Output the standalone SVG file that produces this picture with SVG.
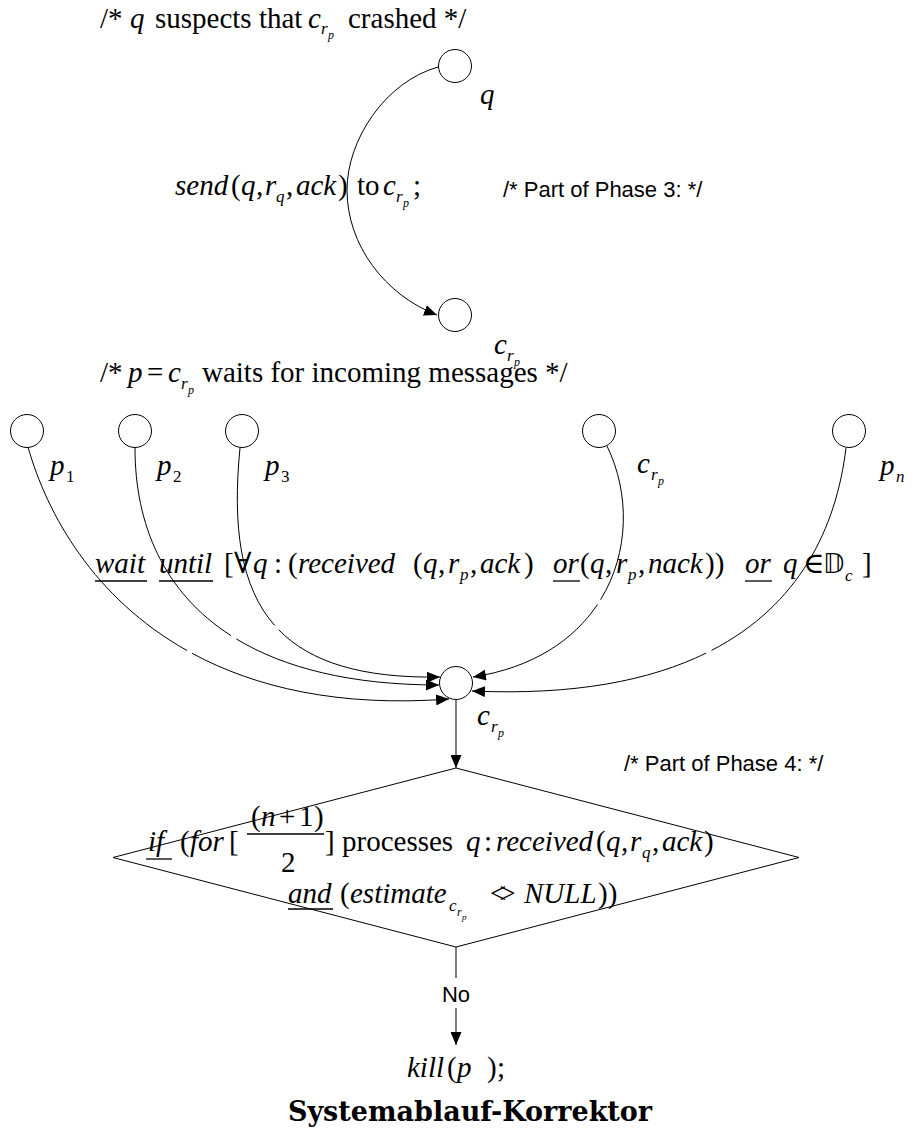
<svg xmlns="http://www.w3.org/2000/svg" width="918" height="1140" viewBox="0 0 918 1140">
<defs>
<style>
.m{font-family:"Liberation Serif","DejaVu Serif",serif;font-size:29px;fill:#000}
.i{font-style:italic}
.s1{font-size:17px}
.s2{font-size:12px}
.a{font-family:"Liberation Sans",Arial,sans-serif;font-size:22px;fill:#000}
.e{fill:none;stroke:#000;stroke-width:1}
.n{fill:#fff;stroke:#000;stroke-width:1}
.u{stroke:#000;stroke-width:1.3}
.t{font-family:"DejaVu Serif",serif;font-weight:bold;font-size:27px;fill:#000}
</style>
<marker id="ah" markerWidth="13" markerHeight="11" refX="13" refY="5.5" orient="auto" markerUnits="userSpaceOnUse"><path d="M0,0 L13,5.5 L0,11 z" fill="#000"/></marker>
</defs>
<rect width="918" height="1140" fill="#fff"/>

<g id="connectors">
<path class="e" d="M438,67 C385,82 347,140 347,190 C347,245 385,295 437,315" marker-end="url(#ah)"/>
<path class="e" pathLength="100" stroke-dasharray="49.5 1.1 100" d="M28,447 C60,560 170,720 449,699" marker-end="url(#ah)"/>
<path class="e" pathLength="100" stroke-dasharray="50.5 1.4 100" d="M135,448 C135,580 220,685 439,685" marker-end="url(#ah)"/>
<path class="e" pathLength="100" stroke-dasharray="51 1.6 100" d="M240,448 C225,600 270,680 440,677" marker-end="url(#ah)"/>
<path class="e" pathLength="100" stroke-dasharray="51 1.8 100" d="M607,446 C648,530 615,655 473,677" marker-end="url(#ah)"/>
<path class="e" pathLength="100" stroke-dasharray="50.8 1.2 100" d="M846,448 C830,580 740,703 472,691" marker-end="url(#ah)"/>
<path class="e" d="M456,700 L456,768" marker-end="url(#ah)"/>
<path class="e" d="M456,947 L456,978"/>
<path class="e" d="M456,1008 L456,1045" marker-end="url(#ah)"/>
<text class="a" x="456" y="1002" text-anchor="middle" font-size="19">No</text>
</g>

<g id="comments">
<text class="m" y="28"><tspan x="100">/*</tspan><tspan x="130" class="i">q</tspan><tspan x="155">suspects that</tspan><tspan x="308" class="i">c</tspan><tspan x="321" y="34" class="i s1">r</tspan><tspan x="328" y="39" class="i s2">p</tspan><tspan x="348" y="28">crashed */</tspan></text>
<text class="m" y="195"><tspan x="175" class="i">send</tspan><tspan x="231">(</tspan><tspan x="241" class="i">q</tspan><tspan x="256">,</tspan><tspan x="265" class="i">r</tspan><tspan x="276" y="202" class="i s1">q</tspan><tspan x="286" y="195">,</tspan><tspan x="296" class="i">ack</tspan><tspan x="338">)</tspan><tspan x="357">to</tspan><tspan x="383" class="i">c</tspan><tspan x="396" y="202" class="i s1">r</tspan><tspan x="403" y="207" class="i s2">p</tspan><tspan x="413" y="195">;</tspan></text>
<text class="a" x="503" y="197">/* Part of Phase 3: */</text>
<text class="m" y="382"><tspan x="100">/*</tspan><tspan x="128" class="i">p</tspan><tspan x="147">=</tspan><tspan x="168" class="i">c</tspan><tspan x="181" y="389" class="i s1">r</tspan><tspan x="188" y="394" class="i s2">p</tspan><tspan x="202" y="382">waits for incoming messages */</tspan></text>
<text class="m" y="573"><tspan x="95" class="i">wait</tspan><tspan x="159" class="i">until</tspan><tspan x="224">[</tspan><tspan x="234">∀</tspan><tspan x="253" class="i">q</tspan><tspan x="274">:</tspan><tspan x="288">(</tspan><tspan x="298" class="i">received</tspan><tspan x="413">(</tspan><tspan x="423" class="i">q</tspan><tspan x="438">,</tspan><tspan x="448" class="i">r</tspan><tspan x="460" y="580" class="i s1">p</tspan><tspan x="470" y="573">,</tspan><tspan x="480" class="i">ack</tspan><tspan x="524">)</tspan><tspan x="553" class="i">or</tspan><tspan x="580">(</tspan><tspan x="590" class="i">q</tspan><tspan x="605">,</tspan><tspan x="616" class="i">r</tspan><tspan x="628" y="580" class="i s1">p</tspan><tspan x="638" y="573">,</tspan><tspan x="648" class="i">nack</tspan><tspan x="705">))</tspan><tspan x="745" class="i">or</tspan><tspan x="783" class="i">q</tspan><tspan x="803">∈</tspan><tspan x="823" class="i" font-family="DejaVu Sans, sans-serif" font-size="26">𝔻</tspan><tspan x="845" y="581" class="i s1">c</tspan><tspan x="862" y="573">]</tspan></text>
<line class="u" x1="95" y1="581" x2="147" y2="581"/>
<line class="u" x1="159" y1="581" x2="213" y2="581"/>
<line class="u" x1="553" y1="581" x2="580" y2="581"/>
<line class="u" x1="745" y1="581" x2="772" y2="581"/>
<text class="a" x="624" y="771">/* Part of Phase 4: */</text>
<text class="t" x="470" y="1121" text-anchor="middle">Systemablauf-Korrektor</text>
</g>

<g id="node-q">
<circle class="n" cx="455" cy="66" r="16.5"/>
<text class="m i" x="480" y="104">q</text>
</g>
<g id="node-crp-top">
<circle class="n" cx="455" cy="315" r="16.5"/>
<text class="m"><tspan x="494" y="354" class="i">c</tspan><tspan x="507" y="361" class="i s1">r</tspan><tspan x="514" y="366" class="i s2">p</tspan></text>
</g>
<g id="node-p1">
<circle class="n" cx="27" cy="431" r="16.5"/>
<text class="m"><tspan x="50" y="475" class="i">p</tspan><tspan x="66" y="482" class="s1">1</tspan></text>
</g>
<g id="node-p2">
<circle class="n" cx="135" cy="431" r="16.5"/>
<text class="m"><tspan x="157" y="475" class="i">p</tspan><tspan x="173" y="482" class="s1">2</tspan></text>
</g>
<g id="node-p3">
<circle class="n" cx="242" cy="431" r="16.5"/>
<text class="m"><tspan x="265" y="475" class="i">p</tspan><tspan x="281" y="482" class="s1">3</tspan></text>
</g>
<g id="node-crp-row">
<circle class="n" cx="599" cy="431" r="16.5"/>
<text class="m"><tspan x="637" y="473" class="i">c</tspan><tspan x="651" y="480" class="i s1">r</tspan><tspan x="658" y="485" class="i s2">p</tspan></text>
</g>
<g id="node-pn">
<circle class="n" cx="849" cy="431" r="16.5"/>
<text class="m"><tspan x="880" y="475" class="i">p</tspan><tspan x="896" y="482" class="i s1">n</tspan></text>
</g>
<g id="node-hub">
<circle class="n" cx="456" cy="683" r="16.5"/>
<text class="m"><tspan x="477" y="725" class="i">c</tspan><tspan x="491" y="732" class="i s1">r</tspan><tspan x="498" y="737" class="i s2">p</tspan></text>
</g>
<g id="node-decision">
<polygon class="n" points="456,768 799,857.5 456,947 113,857.5"/>
<text class="m" y="851"><tspan x="148" class="i">if</tspan><tspan x="180">(</tspan><tspan x="190" class="i">for</tspan><tspan x="229">[</tspan><tspan x="325">]</tspan><tspan x="342">processes</tspan><tspan x="466" class="i">q</tspan><tspan x="484">:</tspan><tspan x="496" class="i">received</tspan><tspan x="596">(</tspan><tspan x="606" class="i">q</tspan><tspan x="621">,</tspan><tspan x="630" class="i">r</tspan><tspan x="642" y="858" class="i s1">q</tspan><tspan x="652" y="851">,</tspan><tspan x="662" class="i">ack</tspan><tspan x="704">)</tspan></text>
<text class="m" y="826"><tspan x="251">(</tspan><tspan x="261" class="i">n</tspan><tspan x="279">+</tspan><tspan x="299">1</tspan><tspan x="314">)</tspan></text>
<text class="m" x="281" y="872">2</text>
<line class="u" x1="247" y1="834" x2="324" y2="834"/>
<line class="u" x1="146" y1="859" x2="172" y2="859"/>
<text class="m" y="903"><tspan x="288" class="i">and</tspan><tspan x="340">(</tspan><tspan x="350" class="i">estimate</tspan><tspan x="449" y="911" class="i s1">c</tspan><tspan x="457" y="916" class="i s2">r</tspan><tspan x="462" y="920" class="i" font-size="9">p</tspan><tspan x="490" y="903" letter-spacing="-7">&lt;&gt;</tspan><tspan x="524" class="i">NULL</tspan><tspan x="598">))</tspan></text>
<line class="u" x1="288" y1="909" x2="333" y2="909"/>
</g>
<g id="node-kill">
<text class="m" y="1077"><tspan x="407" class="i">kill</tspan><tspan x="447">(</tspan><tspan x="457" class="i">p</tspan><tspan x="487">)</tspan><tspan x="497">;</tspan></text>
</g>
</svg>
